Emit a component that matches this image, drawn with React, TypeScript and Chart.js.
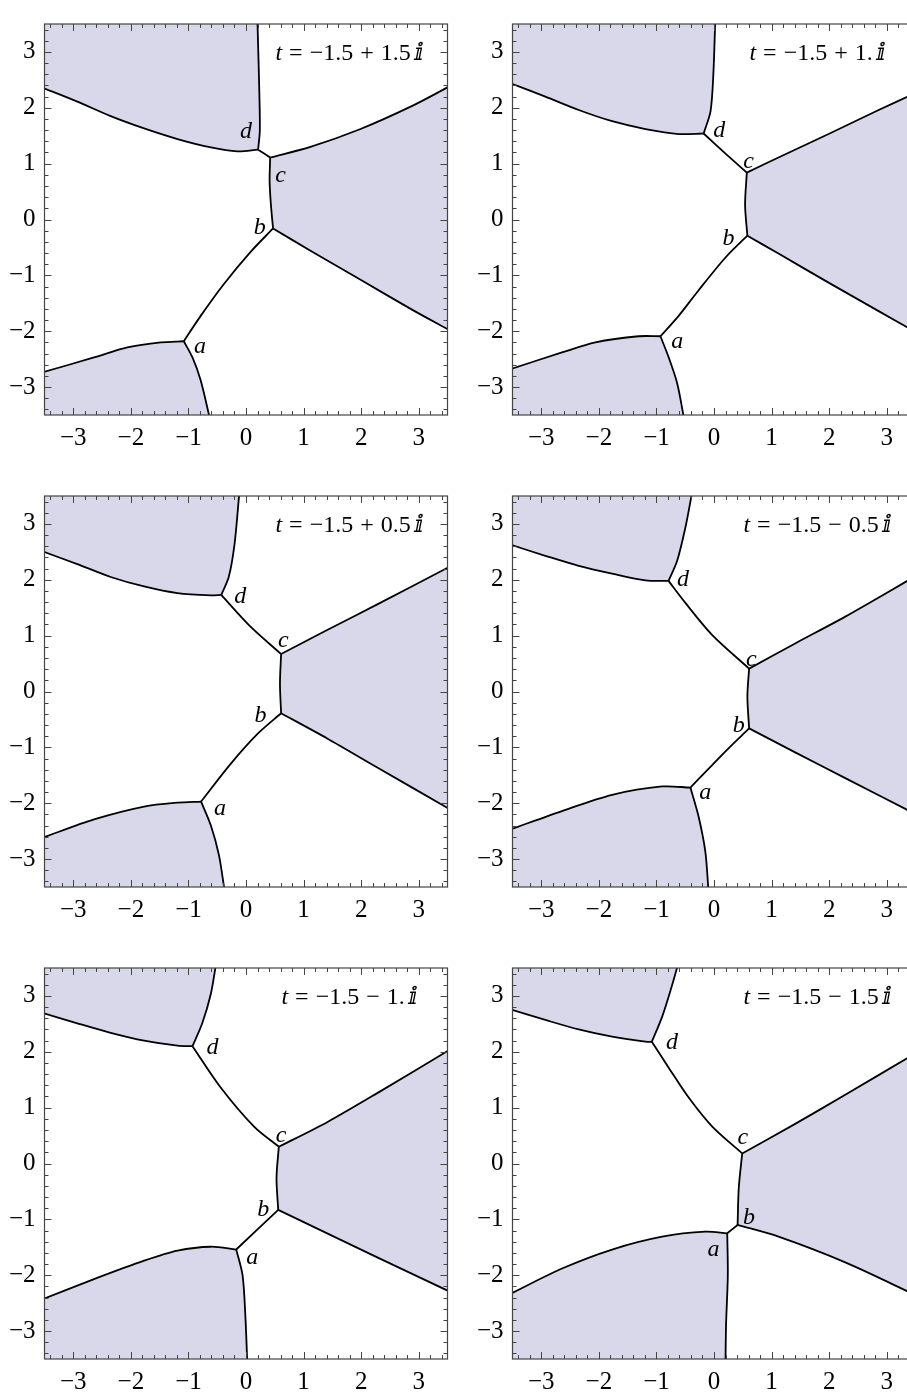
import React, { useEffect, useRef } from 'react';
import { Chart, registerables } from 'chart.js';
Chart.register(...registerables);

type P = [number, number];

// ---------- axis ----------
const AXIS_MIN = -3.5;
const AXIS_MAX = 3.5;
const MAJOR_TICKS = [-3, -2, -1, 0, 1, 2, 3];
const LETTERS = ['a', 'b', 'c', 'd'];
const TITLES = [
  't = −1.5 + 1.5 ⅈ',
  't = −1.5 + 1. ⅈ',
  't = −1.5 + 0.5 ⅈ',
  't = −1.5 − 0.5 ⅈ',
  't = −1.5 − 1. ⅈ',
  't = −1.5 − 1.5 ⅈ',
];
const TITLE_POS: P = [1.8, 2.85];

// ---------- panel 1 : t = -1.5 + 1.5 i ----------
const P1_DLEFT: P[] = [[-3.51, 2.35], [-2.93, 2.11], [-2.35, 1.85], [-1.77, 1.63], [-1.19, 1.44], [-0.61, 1.29], [-0.15, 1.22], [0.21, 1.25]];
const P1_DTOP: P[] = [[0.21, 1.25], [0.24, 1.59], [0.23, 2.34], [0.2, 3.51]];
const P1_DC: P[] = [[0.21, 1.25], [0.42, 1.11]];
const P1_CRIGHT: P[] = [[0.42, 1.11], [1.12, 1.3], [1.99, 1.62], [2.86, 2.02], [3.51, 2.37]];
const P1_CB: P[] = [[0.42, 1.11], [0.41, 0.7], [0.43, 0.3], [0.47, -0.16]];
const P1_BRIGHT: P[] = [[0.47, -0.16], [1.12, -0.56], [1.99, -1.08], [2.86, -1.6], [3.51, -1.97]];
const P1_BA: P[] = [[0.47, -0.16], [0.08, -0.58], [-0.38, -1.15], [-0.79, -1.73], [-1.08, -2.18]];
const P1_ALEFT: P[] = [[-1.08, -2.18], [-1.48, -2.2], [-2.06, -2.29], [-2.64, -2.47], [-3.51, -2.73]];
const P1_ABOTTOM: P[] = [[-1.08, -2.18], [-0.93, -2.47], [-0.79, -2.87], [-0.64, -3.51]];
const P1_LABELS: P[] = [[-0.8, -2.24], [0.24, -0.15], [0.6, 0.83], [0.0, 1.58]];

// ---------- panel 2 : t = -1.5 + 1. i ----------
const P2_DLEFT: P[] = [[-3.51, 2.43], [-2.93, 2.2], [-2.35, 1.96], [-1.77, 1.76], [-1.19, 1.62], [-0.61, 1.53], [-0.18, 1.54]];
const P2_DTOP: P[] = [[-0.18, 1.54], [-0.06, 1.94], [-0.01, 2.63], [0.02, 3.51]];
const P2_DC: P[] = [[-0.18, 1.54], [0.2, 1.18], [0.57, 0.84]];
const P2_CRIGHT: P[] = [[0.57, 0.84], [1.12, 1.11], [1.99, 1.53], [2.86, 1.96], [3.51, 2.27]];
const P2_CB: P[] = [[0.57, 0.84], [0.54, 0.26], [0.58, -0.29]];
const P2_BRIGHT: P[] = [[0.58, -0.29], [1.12, -0.61], [1.99, -1.13], [2.86, -1.64], [3.51, -2.02]];
const P2_BA: P[] = [[0.58, -0.29], [0.2, -0.68], [-0.27, -1.27], [-0.61, -1.72], [-0.93, -2.09]];
const P2_ALEFT: P[] = [[-0.93, -2.09], [-1.31, -2.09], [-2.06, -2.2], [-2.64, -2.38], [-3.51, -2.67]];
const P2_ABOTTOM: P[] = [[-0.93, -2.09], [-0.79, -2.46], [-0.64, -2.93], [-0.53, -3.51]];
const P2_LABELS: P[] = [[-0.64, -2.15], [0.25, -0.34], [0.6, 1.08], [0.09, 1.59]];

// ---------- panel 3 : t = -1.5 + 0.5 i ----------
const P3_DLEFT: P[] = [[-3.51, 2.5], [-2.93, 2.28], [-2.35, 2.05], [-1.77, 1.88], [-1.19, 1.76], [-0.61, 1.72], [-0.43, 1.73]];
const P3_DTOP: P[] = [[-0.43, 1.73], [-0.3, 2.05], [-0.2, 2.63], [-0.12, 3.51]];
const P3_DC: P[] = [[-0.43, 1.73], [0.06, 1.18], [0.61, 0.67]];
const P3_CRIGHT: P[] = [[0.61, 0.67], [1.41, 1.1], [2.28, 1.56], [3.51, 2.22]];
const P3_CB: P[] = [[0.61, 0.67], [0.59, 0.14], [0.61, -0.39]];
const P3_BRIGHT: P[] = [[0.61, -0.39], [1.41, -0.84], [2.28, -1.36], [3.51, -2.09]];
const P3_BA: P[] = [[0.61, -0.39], [0.2, -0.76], [-0.27, -1.3], [-0.78, -1.97]];
const P3_ALEFT: P[] = [[-0.78, -1.97], [-1.19, -1.99], [-1.77, -2.06], [-2.64, -2.29], [-3.51, -2.61]];
const P3_ABOTTOM: P[] = [[-0.78, -1.97], [-0.61, -2.4], [-0.47, -2.93], [-0.38, -3.51]];
const P3_LABELS: P[] = [[-0.45, -2.06], [0.25, -0.44], [0.65, 0.95], [-0.1, 1.7]];

// ---------- panel 4 : t = -1.5 - 0.5 i ----------
const P4_DLEFT: P[] = [[-3.51, 2.62], [-2.93, 2.43], [-2.35, 2.25], [-1.77, 2.11], [-1.19, 1.99], [-0.79, 1.98]];
const P4_DTOP: P[] = [[-0.79, 1.98], [-0.64, 2.34], [-0.5, 2.92], [-0.39, 3.51]];
const P4_DC: P[] = [[-0.79, 1.98], [-0.5, 1.59], [-0.03, 1.01], [0.61, 0.41]];
const P4_CRIGHT: P[] = [[0.61, 0.41], [1.41, 0.86], [2.28, 1.34], [3.51, 2.07]];
const P4_CB: P[] = [[0.61, 0.41], [0.58, -0.09], [0.61, -0.66]];
const P4_BRIGHT: P[] = [[0.61, -0.66], [1.41, -1.09], [2.28, -1.55], [3.51, -2.2]];
const P4_BA: P[] = [[0.61, -0.66], [0.2, -1.07], [-0.41, -1.72]];
const P4_ALEFT: P[] = [[-0.41, -1.72], [-0.9, -1.7], [-1.77, -1.85], [-2.64, -2.14], [-3.51, -2.46]];
const P4_ABOTTOM: P[] = [[-0.41, -1.72], [-0.27, -2.23], [-0.15, -2.87], [-0.1, -3.51]];
const P4_LABELS: P[] = [[-0.15, -1.76], [0.43, -0.62], [0.65, 0.62], [-0.54, 2.0]];

// ---------- panel 5 : t = -1.5 - 1. i ----------
const P5_DLEFT: P[] = [[-3.51, 2.69], [-2.93, 2.51], [-2.35, 2.34], [-1.77, 2.2], [-1.19, 2.11], [-0.93, 2.1]];
const P5_DTOP: P[] = [[-0.93, 2.1], [-0.76, 2.51], [-0.61, 3.04], [-0.53, 3.51]];
const P5_DC: P[] = [[-0.93, 2.1], [-0.44, 1.36], [0.14, 0.66], [0.57, 0.3]];
const P5_CRIGHT: P[] = [[0.57, 0.3], [1.41, 0.74], [2.28, 1.26], [3.51, 2.02]];
const P5_CB: P[] = [[0.57, 0.3], [0.53, -0.26], [0.56, -0.83]];
const P5_BRIGHT: P[] = [[0.56, -0.83], [1.41, -1.25], [2.28, -1.68], [3.51, -2.28]];
const P5_BA: P[] = [[0.56, -0.83], [-0.17, -1.54]];
const P5_ALEFT: P[] = [[-0.17, -1.54], [-0.61, -1.49], [-1.19, -1.56], [-1.77, -1.74], [-2.64, -2.07], [-3.51, -2.42]];
const P5_ABOTTOM: P[] = [[-0.17, -1.54], [-0.06, -2.0], [-0.01, -2.75], [0.02, -3.51]];
const P5_LABELS: P[] = [[0.11, -1.65], [0.3, -0.83], [0.61, 0.55], [-0.58, 2.08]];

// ---------- panel 6 : t = -1.5 - 1.5 i ----------
const P6_DLEFT: P[] = [[-3.51, 2.75], [-2.93, 2.57], [-2.35, 2.4], [-1.77, 2.27], [-1.19, 2.18], [-1.08, 2.18]];
const P6_DTOP: P[] = [[-1.08, 2.18], [-0.9, 2.63], [-0.74, 3.15], [-0.64, 3.51]];
const P6_DC: P[] = [[-1.08, 2.18], [-0.79, 1.72], [-0.44, 1.18], [-0.03, 0.66], [0.49, 0.18]];
const P6_CRIGHT: P[] = [[0.49, 0.18], [1.41, 0.71], [2.28, 1.23], [3.51, 1.98]];
const P6_CB: P[] = [[0.49, 0.18], [0.43, -0.44], [0.41, -1.1]];
const P6_BRIGHT: P[] = [[0.41, -1.1], [1.12, -1.31], [2.28, -1.77], [3.51, -2.36]];
const P6_BA: P[] = [[0.41, -1.1], [0.23, -1.25]];
const P6_ALEFT: P[] = [[0.23, -1.25], [-0.15, -1.22], [-0.9, -1.31], [-1.77, -1.54], [-2.64, -1.88], [-3.51, -2.32]];
const P6_ABOTTOM: P[] = [[0.23, -1.25], [0.24, -2.0], [0.21, -2.87], [0.2, -3.51]];
const P6_LABELS: P[] = [[-0.01, -1.49], [0.61, -0.97], [0.5, 0.5], [-0.73, 2.16]];

// ---------- table built from the arrays ----------
interface PanelData {
  title: string;
  dLeft: P[]; dTop: P[]; dc: P[]; cRight: P[]; cb: P[]; bRight: P[]; ba: P[]; aLeft: P[]; aBottom: P[];
  labels: P[];
}
const PANELS: PanelData[] = [
  { title: TITLES[0], dLeft: P1_DLEFT, dTop: P1_DTOP, dc: P1_DC, cRight: P1_CRIGHT, cb: P1_CB, bRight: P1_BRIGHT, ba: P1_BA, aLeft: P1_ALEFT, aBottom: P1_ABOTTOM, labels: P1_LABELS },
  { title: TITLES[1], dLeft: P2_DLEFT, dTop: P2_DTOP, dc: P2_DC, cRight: P2_CRIGHT, cb: P2_CB, bRight: P2_BRIGHT, ba: P2_BA, aLeft: P2_ALEFT, aBottom: P2_ABOTTOM, labels: P2_LABELS },
  { title: TITLES[2], dLeft: P3_DLEFT, dTop: P3_DTOP, dc: P3_DC, cRight: P3_CRIGHT, cb: P3_CB, bRight: P3_BRIGHT, ba: P3_BA, aLeft: P3_ALEFT, aBottom: P3_ABOTTOM, labels: P3_LABELS },
  { title: TITLES[3], dLeft: P4_DLEFT, dTop: P4_DTOP, dc: P4_DC, cRight: P4_CRIGHT, cb: P4_CB, bRight: P4_BRIGHT, ba: P4_BA, aLeft: P4_ALEFT, aBottom: P4_ABOTTOM, labels: P4_LABELS },
  { title: TITLES[4], dLeft: P5_DLEFT, dTop: P5_DTOP, dc: P5_DC, cRight: P5_CRIGHT, cb: P5_CB, bRight: P5_BRIGHT, ba: P5_BA, aLeft: P5_ALEFT, aBottom: P5_ABOTTOM, labels: P5_LABELS },
  { title: TITLES[5], dLeft: P6_DLEFT, dTop: P6_DTOP, dc: P6_DC, cRight: P6_CRIGHT, cb: P6_CB, bRight: P6_BRIGHT, ba: P6_BA, aLeft: P6_ALEFT, aBottom: P6_ABOTTOM, labels: P6_LABELS },
];

// ---------- styles ----------
const FILL_COLOR = 'rgb(216,216,234)';
const LINE_COLOR = '#000000';
const FRAME_COLOR = '#444444';
const SERIF = "'Liberation Serif', 'Times New Roman', serif";
const CANVAS_W = 460;
const CANVAS_H = 460;
const COL_LEFT = [0, 468];
const ROW_TOP = [0, 472, 944];

const toXY = (a: P[]) => a.map(([x, y]) => ({ x, y }));
const rev = (a: P[]) => a.slice().reverse();

function buildDatasets(p: PanelData) {
  const polyTopLeft: P[] = [...p.dLeft, ...p.dTop.slice(1), [AXIS_MIN - 0.01, AXIS_MAX + 0.01]];
  const polyRight: P[] = [...p.cb, ...p.bRight.slice(1), ...rev(p.cRight).slice(0, -1)];
  const polyBottomLeft: P[] = [...p.aLeft, [AXIS_MIN - 0.01, AXIS_MIN - 0.01], ...rev(p.aBottom).slice(0, -1)];
  const fills = [polyTopLeft, polyRight, polyBottomLeft].map((poly) => ({
    data: toXY(poly),
    fill: 'shape',
    backgroundColor: FILL_COLOR,
    borderWidth: 0,
    borderColor: 'rgba(0,0,0,0)',
    pointRadius: 0,
    tension: 0,
    order: 2,
  }));
  const curves = [p.dLeft, p.dTop, p.dc, p.cRight, p.cb, p.bRight, p.ba, p.aLeft, p.aBottom].map((c) => ({
    data: toXY(c),
    fill: false,
    borderColor: LINE_COLOR,
    borderWidth: 1.8,
    pointRadius: 0,
    tension: 0.3,
    order: 1,
  }));
  return [...curves, ...fills];
}

const fmt = (v: number) => String(v).replace('-', '−');

const framePlugin = {
  id: 'mmaFrame',
  afterDatasetsDraw(chart: any) {
    const { ctx, chartArea: a, scales } = chart;
    const xs = scales.x;
    const ys = scales.y;
    ctx.save();
    ctx.strokeStyle = FRAME_COLOR;
    ctx.lineWidth = 1;
    ctx.beginPath();
    for (let i = -17; i <= 17; i++) {
      const v = i / 5;
      const len = i % 5 === 0 ? 7 : 4;
      const px = Math.round(xs.getPixelForValue(v)) + 0.5;
      const py = Math.round(ys.getPixelForValue(v)) + 0.5;
      ctx.moveTo(px, a.bottom); ctx.lineTo(px, a.bottom - len);
      ctx.moveTo(px, a.top); ctx.lineTo(px, a.top + len);
      ctx.moveTo(a.left, py); ctx.lineTo(a.left + len, py);
      ctx.moveTo(a.right, py); ctx.lineTo(a.right - len, py);
    }
    ctx.stroke();
    ctx.lineWidth = 1.2;
    ctx.strokeRect(a.left, a.top, a.right - a.left, a.bottom - a.top);
    ctx.restore();
  },
};

function makeTextPlugin(p: PanelData) {
  return {
    id: 'mmaText',
    afterDraw(chart: any) {
      const { ctx, scales } = chart;
      const xs = scales.x;
      const ys = scales.y;
      ctx.save();
      ctx.fillStyle = '#000';
      // vertex labels
      ctx.font = `italic 24px ${SERIF}`;
      ctx.textAlign = 'center';
      ctx.textBaseline = 'middle';
      p.labels.forEach(([x, y], i) => {
        const letter = LETTERS[i];
        const dy = letter === 'a' || letter === 'c' ? 2.5 : 0;
        ctx.fillText(letter, xs.getPixelForValue(x), ys.getPixelForValue(y) + dy);
      });
      // title
      const tokens = p.title.split(' ');
      const fonts = tokens.map((_, i) => (i === 0 ? `italic 24px ${SERIF}` : `24px ${SERIF}, 'DejaVu Serif', 'DejaVu Sans'`));
      const widths = tokens.map((t, i) => { ctx.font = fonts[i]; return ctx.measureText(t).width; });
      const gaps = tokens.map((_, i) => (i === 0 ? 0 : i === tokens.length - 1 ? 4 : 7));
      const total = widths.reduce((s, w) => s + w, 0) + gaps.reduce((s, g) => s + g, 0);
      let cx = xs.getPixelForValue(TITLE_POS[0]) - total / 2;
      const by = ys.getPixelForValue(TITLE_POS[1]);
      ctx.textAlign = 'left';
      ctx.textBaseline = 'alphabetic';
      tokens.forEach((t, i) => {
        cx += gaps[i];
        ctx.font = fonts[i];
        ctx.fillText(t, cx, by);
        cx += widths[i];
      });
      ctx.restore();
    },
  };
}

function Panel({ data, left, top }: { data: PanelData; left: number; top: number }) {
  const ref = useRef<HTMLCanvasElement | null>(null);
  useEffect(() => {
    if (!ref.current) return;
    const chart = new Chart(ref.current, {
      type: 'line',
      data: { datasets: buildDatasets(data) as any },
      plugins: [framePlugin, makeTextPlugin(data)],
      options: {
        animation: false,
        responsive: false,
        devicePixelRatio: 1,
        events: [],
        layout: { padding: { left: 0, top: 12, right: 12.5, bottom: 0 } },
        plugins: { legend: { display: false }, tooltip: { enabled: false } },
        scales: {
          x: {
            type: 'linear',
            min: AXIS_MIN,
            max: AXIS_MAX,
            grid: { display: false, drawTicks: false },
            border: { display: false },
            afterBuildTicks: (s: any) => { s.ticks = MAJOR_TICKS.map((v) => ({ value: v })); },
            afterFit: (s: any) => { s.height = 45; },
            ticks: {
              autoSkip: false,
              maxRotation: 0,
              padding: 8,
              color: '#000',
              font: { family: SERIF, size: 25 },
              callback: (v: any) => fmt(Number(v)),
            },
          },
          y: {
            type: 'linear',
            min: AXIS_MIN,
            max: AXIS_MAX,
            grid: { display: false, drawTicks: false },
            border: { display: false },
            afterBuildTicks: (s: any) => { s.ticks = MAJOR_TICKS.map((v) => ({ value: v })); },
            afterFit: (s: any) => { s.width = 44.5; },
            ticks: {
              autoSkip: false,
              padding: 9,
              color: '#000',
              font: { family: SERIF, size: 25 },
              callback: (v: any) => fmt(Number(v)),
            },
          },
        },
      } as any,
    });
    return () => chart.destroy();
  }, [data]);
  return (
    <canvas
      ref={ref}
      width={CANVAS_W}
      height={CANVAS_H}
      style={{ position: 'absolute', left, top, width: CANVAS_W, height: CANVAS_H }}
    />
  );
}

export default function App() {
  return (
    <div style={{ position: 'absolute', left: 0, top: 0, width: 907, height: 1393, overflow: 'hidden', background: '#fff' }}>
      {PANELS.map((p, i) => (
        <Panel key={i} data={p} left={COL_LEFT[i % 2]} top={ROW_TOP[Math.floor(i / 2)]} />
      ))}
    </div>
  );
}
